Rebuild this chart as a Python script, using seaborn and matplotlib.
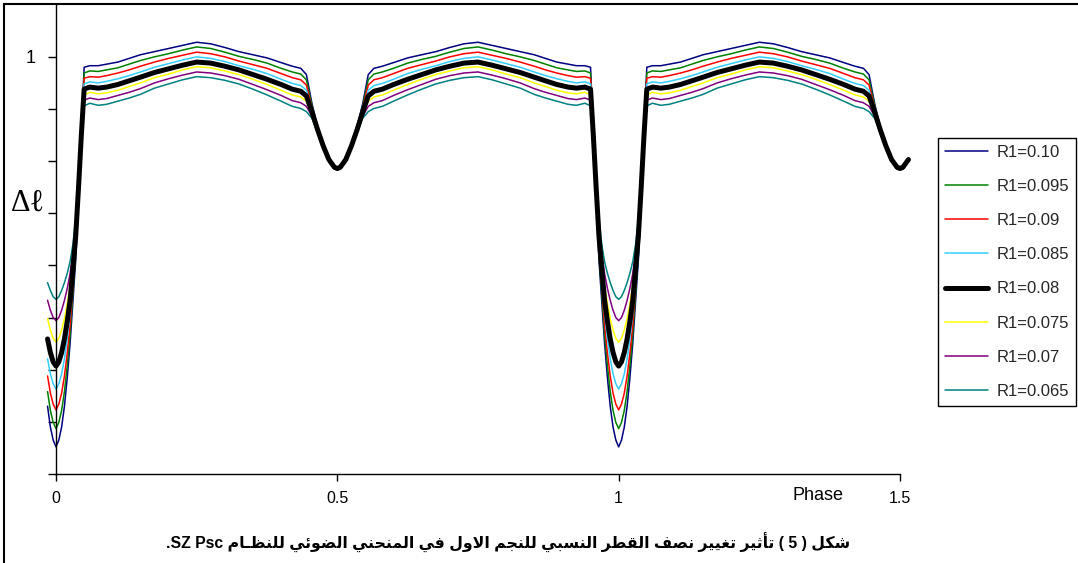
import matplotlib
matplotlib.use("Agg")
import matplotlib.pyplot as plt
import seaborn as sns
import pandas as pd
from matplotlib.patches import Rectangle

# ---------------- data (half cycle, phase 0 .. 0.5; curve is symmetric) ----------------
phase_half = [0.000, 0.005, 0.010, 0.015, 0.020, 0.025, 0.030, 0.035, 0.040, 0.045,
              0.050, 0.060, 0.075, 0.090, 0.110, 0.130, 0.150, 0.175, 0.200, 0.225,
              0.250, 0.275, 0.300, 0.325, 0.350, 0.375, 0.400, 0.420, 0.435, 0.445,
              0.455, 0.465, 0.475, 0.485, 0.495, 0.500]

r1_0100 = [0.252, 0.265, 0.290, 0.330, 0.385, 0.450, 0.530, 0.610, 0.720, 0.855,
           0.980, 0.983, 0.983, 0.986, 0.990, 0.997, 1.004, 1.010, 1.016, 1.022,
           1.028, 1.025, 1.018, 1.010, 1.004, 0.998, 0.989, 0.982, 0.978, 0.966,
           0.910, 0.866, 0.830, 0.801, 0.785, 0.783]
r1_0095 = [0.287, 0.299, 0.322, 0.358, 0.408, 0.467, 0.546, 0.621, 0.727, 0.854,
           0.969, 0.973, 0.972, 0.975, 0.979, 0.986, 0.993, 1.000, 1.006, 1.013,
           1.019, 1.016, 1.009, 1.001, 0.995, 0.988, 0.978, 0.971, 0.967, 0.956,
           0.906, 0.864, 0.830, 0.802, 0.786, 0.784]
r1_0090 = [0.323, 0.334, 0.355, 0.388, 0.432, 0.485, 0.561, 0.633, 0.734, 0.852,
           0.959, 0.962, 0.961, 0.964, 0.969, 0.975, 0.982, 0.990, 0.997, 1.003,
           1.009, 1.006, 1.000, 0.992, 0.985, 0.978, 0.968, 0.960, 0.956, 0.946,
           0.902, 0.863, 0.829, 0.802, 0.787, 0.785]
r1_0085 = [0.363, 0.373, 0.392, 0.421, 0.460, 0.507, 0.577, 0.644, 0.741, 0.851,
           0.948, 0.952, 0.950, 0.953, 0.958, 0.964, 0.971, 0.980, 0.987, 0.994,
           1.000, 0.997, 0.991, 0.983, 0.976, 0.968, 0.957, 0.949, 0.945, 0.936,
           0.898, 0.861, 0.829, 0.803, 0.788, 0.786]
r1_0080 = [0.407, 0.415, 0.433, 0.459, 0.493, 0.533, 0.593, 0.656, 0.749, 0.849,
           0.938, 0.942, 0.940, 0.942, 0.947, 0.954, 0.961, 0.970, 0.977, 0.984,
           0.990, 0.988, 0.982, 0.975, 0.966, 0.957, 0.947, 0.938, 0.934, 0.925,
           0.894, 0.860, 0.829, 0.803, 0.788, 0.786]
r1_0075 = [0.453, 0.460, 0.476, 0.498, 0.527, 0.561, 0.609, 0.667, 0.756, 0.848,
           0.927, 0.932, 0.929, 0.931, 0.936, 0.943, 0.950, 0.960, 0.967, 0.975,
           0.981, 0.979, 0.973, 0.966, 0.957, 0.947, 0.936, 0.927, 0.923, 0.915,
           0.890, 0.858, 0.829, 0.804, 0.789, 0.787]
r1_0070 = [0.494, 0.500, 0.514, 0.533, 0.556, 0.584, 0.624, 0.679, 0.763, 0.846,
           0.917, 0.921, 0.918, 0.920, 0.926, 0.932, 0.939, 0.950, 0.958, 0.965,
           0.971, 0.969, 0.964, 0.957, 0.947, 0.937, 0.926, 0.916, 0.912, 0.905,
           0.886, 0.857, 0.828, 0.804, 0.790, 0.788]
r1_0065 = [0.535, 0.540, 0.552, 0.567, 0.585, 0.607, 0.640, 0.690, 0.770, 0.845,
           0.906, 0.911, 0.907, 0.909, 0.915, 0.921, 0.928, 0.940, 0.948, 0.956,
           0.962, 0.960, 0.955, 0.948, 0.938, 0.927, 0.915, 0.905, 0.901, 0.895,
           0.882, 0.855, 0.828, 0.805, 0.791, 0.789]

series_labels = ["R1=0.10", "R1=0.095", "R1=0.09", "R1=0.085",
                 "R1=0.08", "R1=0.075", "R1=0.07", "R1=0.065"]
series_values = [r1_0100, r1_0095, r1_0090, r1_0085, r1_0080, r1_0075, r1_0070, r1_0065]
series_colors = ["#000080", "#008000", "#FF0000", "#33CCFF",
                 "#000000", "#FFFF00", "#800080", "#008080"]
series_widths = [1.1, 1.1, 1.1, 1.1, 3.6, 1.1, 1.1, 1.1]

x_ticks = [0, 0.5, 1, 1.5]
x_ticklabels = ["0", "0.5", "1", "1.5"]
y_ticks = [0.2, 0.3, 0.4, 0.5, 0.6, 0.7, 0.8, 0.9, 1.0]
y_ticklabels = ["", "", "", "", "", "", "", "", "1"]

caption_ar = "شكل ( 5 ) تأثير تغيير نصف القطر النسبي للنجم الاول في المنحني الضوئي للنظـام"
caption_ltr = "SZ Psc"


# ---------------- build full phase range from the symmetric half cycle ----------------
def full_curve(ph, vals, lo=-0.016, hi=1.516):
    cyc_p = list(ph) + [1 - p for p in reversed(ph[:-1])]
    cyc_v = list(vals) + list(reversed(vals[:-1]))
    out_p, out_v = [], []
    for shift in (-1, 0, 1):
        for p, v in zip(cyc_p, cyc_v):
            q = p + shift
            if shift < 1 and p >= 1:
                continue
            if lo <= q <= hi:
                out_p.append(round(q, 4))
                out_v.append(v)
    return out_p, out_v


# ---------------- minimal Arabic shaping (presentation forms, visual order) ----------------
FORMS = {
    'ء': (0xFE80, 'U'), 'أ': (0xFE83, 'R'), 'ئ': (0xFE89, 'D'), 'ا': (0xFE8D, 'R'),
    'ب': (0xFE8F, 'D'), 'ت': (0xFE95, 'D'), 'ث': (0xFE99, 'D'), 'ج': (0xFE9D, 'D'),
    'ح': (0xFEA1, 'D'), 'ر': (0xFEAD, 'R'), 'س': (0xFEB1, 'D'), 'ش': (0xFEB5, 'D'),
    'ص': (0xFEB9, 'D'), 'ض': (0xFEBD, 'D'), 'ط': (0xFEC1, 'D'), 'ظ': (0xFEC5, 'D'),
    'غ': (0xFECD, 'D'), 'ف': (0xFED1, 'D'), 'ق': (0xFED5, 'D'), 'ك': (0xFED9, 'D'),
    'ل': (0xFEDD, 'D'), 'م': (0xFEE1, 'D'), 'ن': (0xFEE5, 'D'), 'و': (0xFEED, 'R'),
    'ي': (0xFEF1, 'D'), 'ـ': (0x0640, 'C'),
}
LAM_ALEF = {'ا': 0xFEFB, 'أ': 0xFEF7}


def shape_word(w):
    toks = []
    i = 0
    while i < len(w):
        c = w[i]
        if c == 'ل' and i + 1 < len(w) and w[i + 1] in LAM_ALEF:
            toks.append((LAM_ALEF[w[i + 1]], 'R'))
            i += 2
            continue
        if c in FORMS:
            toks.append(FORMS[c])
        else:
            toks.append((ord(c), 'N'))
        i += 1
    out = []
    for k, (base, jt) in enumerate(toks):
        if jt in ('N', 'U', 'C'):
            out.append(chr(base))
            continue
        jp = k > 0 and toks[k - 1][1] in ('D', 'C')
        jn = jt == 'D' and k + 1 < len(toks) and toks[k + 1][1] in ('D', 'R', 'C')
        if jt == 'R':
            idx = 1 if jp else 0
        else:
            idx = {(False, False): 0, (True, False): 1, (False, True): 2, (True, True): 3}[(jp, jn)]
        out.append(chr(base + idx))
    return "".join(reversed(out))


def visual_rtl(text):
    mirror = {'(': ')', ')': '('}
    words = text.split(" ")
    vis = []
    for w in reversed(words):
        if w in mirror:
            vis.append(mirror[w])
        elif any(ch in FORMS for ch in w):
            vis.append(shape_word(w))
        else:
            vis.append(w)
    return " ".join(vis)


caption_visual = "." + caption_ltr + " " + visual_rtl(caption_ar)

# ---------------- plotting ----------------
sns.set_theme(style="white")
plt.rcParams["font.family"] = ["Liberation Sans", "DejaVu Sans"]

W, H = 1078, 563
fig = plt.figure(figsize=(W / 100, H / 100), dpi=100)
fig.patch.set_facecolor("white")
ax = fig.add_axes([56 / W, (H - 474) / H, 844 / W, (474 - 4.7) / H])
ax.set_facecolor("white")

for lab, vals, col, lw in zip(series_labels, series_values, series_colors, series_widths):
    px, py = full_curve(phase_half, vals)
    df = pd.DataFrame({"phase": px, "dl": py})
    sns.lineplot(data=df, x="phase", y="dl", color=col, linewidth=lw, label=lab,
                 ax=ax, sort=False, estimator=None, clip_on=False,
                 zorder=3 if lw > 2 else 2)

ax.set_xlim(0, 1.5)
ax.set_ylim(0.2, 1.1)
ax.set_xticks(x_ticks)
ax.set_xticklabels(x_ticklabels)
ax.set_yticks(y_ticks)
ax.set_yticklabels(y_ticklabels)
ax.set_xlabel("")
ax.set_ylabel("")
for s in ("top", "right"):
    ax.spines[s].set_visible(False)
for s in ("left", "bottom"):
    ax.spines[s].set_visible(True)
    ax.spines[s].set_color("black")
    ax.spines[s].set_linewidth(1.0)
ax.tick_params(axis="x", direction="out", length=5, width=1, color="black",
               labelsize=11.5, pad=7, labelcolor="black", bottom=True)
ax.tick_params(axis="y", direction="out", length=6, width=1, color="black",
               labelsize=13, pad=9, labelcolor="black", left=True)
ax.grid(False)

leg = ax.legend(loc="upper left", bbox_to_anchor=(938 / W, 1 - 138 / H),
                bbox_transform=fig.transFigure, borderaxespad=0, frameon=True,
                fancybox=False, shadow=False, framealpha=1, fontsize=12,
                handlelength=2.6, handletextpad=0.5, borderpad=0.4, labelspacing=1.15)
leg.get_frame().set_edgecolor("black")
leg.get_frame().set_linewidth(1.0)

fig.text(818 / W, 1 - 495 / H, "Phase", ha="center", va="center", fontsize=13, color="black")
fig.text(11 / W, 1 - 203 / H, "Δℓ", ha="left", va="center", fontsize=22,
         family=["Liberation Serif", "DejaVu Serif"], color="black")
fig.text(508 / W, 1 - 543 / H, caption_visual, ha="center", va="center", fontsize=11.3,
         fontweight="bold", family=["Liberation Sans", "DejaVu Sans"], color="black")

fig.add_artist(Rectangle((4 / W, -0.05), 1.5, 1 - 4 / H + 0.05, transform=fig.transFigure,
                         fill=False, edgecolor="black", linewidth=1.5))

fig.savefig("out.png", dpi=100)
